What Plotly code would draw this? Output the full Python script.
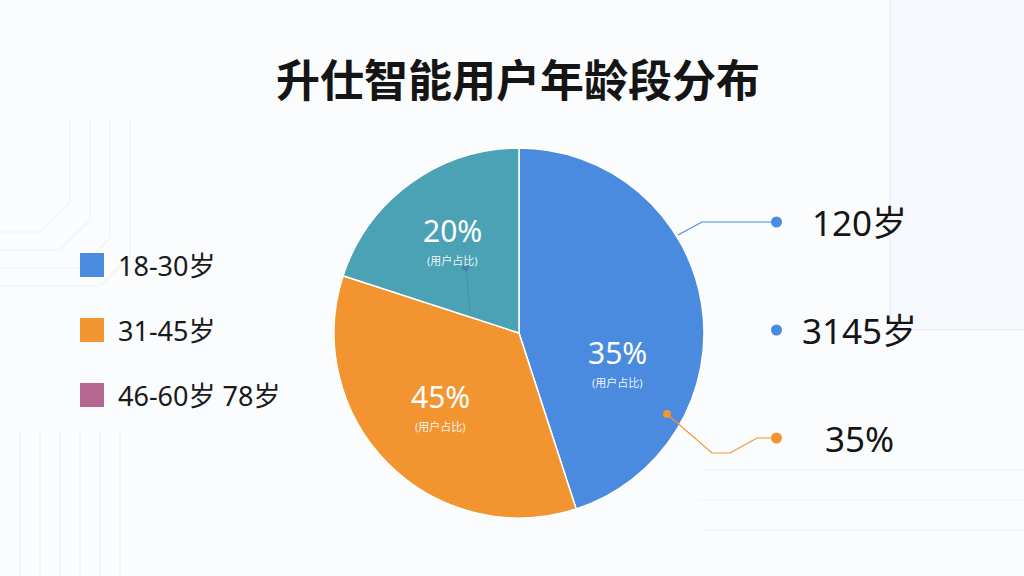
import plotly.graph_objects as go

# ---- data ----
title_text = "升仕智能用户年龄段分布"
categories = ["18-30岁", "31-45岁", "46-60岁"]
values = [45, 35, 20]
slice_labels = ["35%", "45%", "20%"]
slice_sub = ["(用户占比)", "(用户占比)", "(用户占比)"]
slice_colors = ["#4A8BE0", "#F29430", "#4BA2B4"]
legend_labels = ["18-30岁", "31-45岁", "46-60岁 78岁"]
legend_colors = ["#4A8BE0", "#F29430", "#B5688F"]
callout_texts = ["120岁", "3145岁", "35%"]
callout_colors = ["#4A8BE0", "#4A8BE0", "#F29430"]

W, H = 1024, 576
def px(x):
    return x / W
def py(y):
    return 1 - y / H

FONT = "Noto Sans, Noto Sans CJK SC, sans-serif"

fig = go.Figure()
fig.add_trace(go.Pie(
    labels=categories,
    values=values,
    textinfo="none",
    marker=dict(colors=slice_colors, line=dict(color="white", width=1.5)),
    sort=False,
    direction="clockwise",
    rotation=0,
    showlegend=False,
    hoverinfo="label+percent",
    domain=dict(x=[px(334), px(704)], y=[py(518), py(148)]),
))

shapes = []
annotations = []

# title
annotations.append(dict(x=px(518), y=py(80), xref="paper", yref="paper", text=f"<b>{title_text}</b>",
                        showarrow=False, font=dict(family=FONT, size=44, color="#151515"),
                        xanchor="center", yanchor="middle"))

# faint background circuit decoration
deco = "rgba(120,160,210,0.10)"
for i, yy in enumerate([232, 250, 268, 286]):
    shapes.append(dict(type="path", xref="paper", yref="paper",
                       path=f"M {px(0)},{py(yy)} L {px(40 + 20*i)},{py(yy)} L {px(70 + 20*i)},{py(yy - 30)} L {px(70 + 20*i)},{py(120)}",
                       line=dict(color=deco, width=1.2)))
for i, xx in enumerate([20, 40, 60, 80, 100, 120]):
    shapes.append(dict(type="line", xref="paper", yref="paper", x0=px(xx), x1=px(xx),
                       y0=py(430), y1=py(576), line=dict(color=deco, width=1.2)))
for i, yy in enumerate([470, 500, 530]):
    shapes.append(dict(type="line", xref="paper", yref="paper", x0=px(700), x1=px(1024),
                       y0=py(yy), y1=py(yy), line=dict(color=deco, width=1.2)))
shapes.append(dict(type="rect", xref="paper", yref="paper", x0=px(890), x1=px(1030), y0=py(-5), y1=py(330),
                   line=dict(color="rgba(120,160,210,0.10)", width=1.5), fillcolor="rgba(200,215,235,0.10)"))

# in-slice labels
label_pos = [(617, 352), (440, 396), (452, 230)]
for lab, sub, (lx, ly) in zip(slice_labels, slice_sub, label_pos):
    annotations.append(dict(x=px(lx), y=py(ly), xref="paper", yref="paper", text=lab, showarrow=False,
                            font=dict(family=FONT, size=30, color="white"), xanchor="center", yanchor="middle"))
    annotations.append(dict(x=px(lx), y=py(ly + 30), xref="paper", yref="paper", text=sub, showarrow=False,
                            font=dict(family=FONT, size=11, color="rgba(255,255,255,0.9)"),
                            xanchor="center", yanchor="middle"))

# legend
leg_y = [265, 330, 395]
for lab, col, yy in zip(legend_labels, legend_colors, leg_y):
    shapes.append(dict(type="rect", xref="paper", yref="paper", x0=px(80), x1=px(104),
                       y0=py(yy + 12), y1=py(yy - 12), fillcolor=col, line=dict(width=0), layer="above"))
    annotations.append(dict(x=px(116), y=py(yy), xref="paper", yref="paper", text=lab, showarrow=False,
                            font=dict(family=FONT, size=27, color="#1a1a1a"), xanchor="left", yanchor="middle"))

# small inner marker in teal slice
shapes.append(dict(type="line", xref="paper", yref="paper", x0=px(466), x1=px(470), y0=py(268), y1=py(312),
                   line=dict(color="rgba(70,110,170,0.45)", width=1)))
shapes.append(dict(type="circle", xref="paper", yref="paper", x0=px(462), x1=px(469), y0=py(271), y1=py(264),
                   fillcolor="rgba(70,110,170,0.6)", line=dict(width=0)))

# callouts
call_y = [222, 330, 438]
shapes.append(dict(type="path", xref="paper", yref="paper",
                   path=f"M {px(678)},{py(235)} L {px(702)},{py(222)} L {px(776)},{py(222)}",
                   line=dict(color="#4A8BE0", width=1.2)))
shapes.append(dict(type="path", xref="paper", yref="paper",
                   path=f"M {px(667)},{py(414)} L {px(712)},{py(453)} L {px(730)},{py(453)} L {px(757)},{py(438)} L {px(776)},{py(438)}",
                   line=dict(color="#F29430", width=1.2)))
shapes.append(dict(type="circle", xref="paper", yref="paper", x0=px(663), x1=px(671), y0=py(418), y1=py(410),
                   fillcolor="#F29430", line=dict(width=0)))
for t, col, yy in zip(callout_texts, callout_colors, call_y):
    shapes.append(dict(type="circle", xref="paper", yref="paper", x0=px(771), x1=px(782),
                       y0=py(yy + 5.5), y1=py(yy - 5.5), fillcolor=col, line=dict(width=0)))
    annotations.append(dict(x=px(859), y=py(yy), xref="paper", yref="paper", text=t, showarrow=False,
                            font=dict(family=FONT, size=35, color="#151515"), xanchor="center", yanchor="middle"))

fig.update_layout(
    width=W, height=H,
    margin=dict(l=0, r=0, t=0, b=0),
    paper_bgcolor="#FBFCFE",
    plot_bgcolor="#FBFCFE",
    shapes=shapes,
    annotations=annotations,
    font=dict(family=FONT),
)

fig.write_html("out.html", config={"displayModeBar": False},
               post_script="document.body.style.margin='0';document.body.style.overflow='hidden';")
